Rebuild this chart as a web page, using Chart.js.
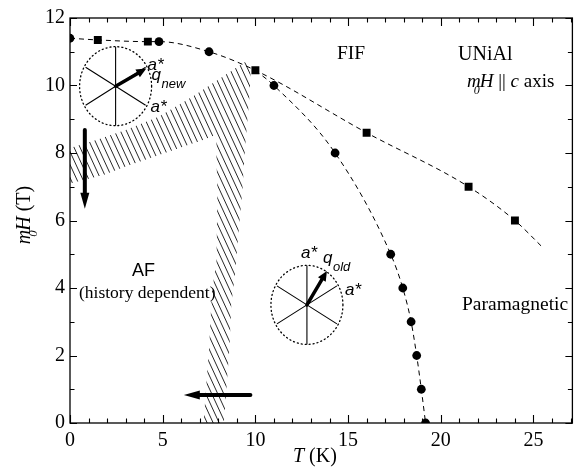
<!DOCTYPE html>
<html><head><meta charset="utf-8">
<script src="https://cdn.jsdelivr.net/npm/chart.js@4.4.1/dist/chart.umd.min.js"></script>
<style>html,body{margin:0;padding:0;background:#fff;}#wrap{width:578px;height:475px;}</style>
</head><body><div id="wrap"><canvas id="c" width="578" height="475"></canvas></div>
<script>
// ---- data ----
const circleT = [0, 4.8, 7.5, 11.0, 14.3, 17.3, 17.95, 18.4, 18.7, 18.95, 19.18];
const circleH = [11.4, 11.3, 11.0, 10.0, 8.0, 5.0, 4.0, 3.0, 2.0, 1.0, 0.0];
const squareT = [1.5, 4.2, 10.0, 16.0, 21.5, 24.0];
const squareH = [11.35, 11.3, 10.45, 8.6, 7.0, 6.0];
const upperLineT = [0, 1.5, 4.2, 4.8, 7.5, 10.0, 16.0, 21.5, 24.0, 25.5];
const upperLineH = [11.4, 11.35, 11.3, 11.3, 11.0, 10.45, 8.6, 7.0, 6.0, 5.2];
const lowerLineT = [10.0, 11.0, 14.3, 17.3, 17.95, 18.4, 18.7, 18.95, 19.18];
const lowerLineH = [10.45, 10.0, 8.0, 5.0, 4.0, 3.0, 2.0, 1.0, 0.0];
const hatchT = [0, 1.5, 3.0, 4.8, 6.6, 8.37, 9.43, 9.75, 9.7, 9.45, 9.3, 9.05, 8.9, 8.7, 8.6, 8.3, 7.2, 7.5, 7.65, 7.9, 7.95, 7.9, 7.9, 7.0, 6.6, 4.8, 3.0, 1.8, 0, 0];
const hatchH = [8.15, 8.4, 8.68, 9.08, 9.67, 10.31, 10.7, 10.55, 9.8, 8.2, 6.9, 5.4, 4.4, 3.5, 2.2, 0, 0, 2.2, 3.85, 4.8, 6.9, 7.8, 8.55, 8.35, 8.28, 7.94, 7.6, 7.35, 7.1, 8.15];
const xTicks = [0, 5, 10, 15, 20, 25];
const yTicks = [0, 2, 4, 6, 8, 10, 12];
// arrows: [T1, H1, T2, H2]
const arrowDown = [0.8, 8.68, 0.8, 6.35];
const arrowLeft = [9.73, 0.83, 6.14, 0.83];
// wave-vector diagrams (centres in T, H)
const diagNew = [2.46, 9.98];
const diagOld = [12.78, 3.5];

const pts = (xs, ys) => xs.map((x, i) => ({x, y: ys[i]}));

function makeHatch() {
  const w = 6, h = 13;
  const c = document.createElement('canvas'); c.width = w; c.height = h;
  const g = c.getContext('2d');
  g.strokeStyle = '#000'; g.lineWidth = 0.85;
  g.beginPath();
  for (const ox of [-w, 0, w]) { g.moveTo(ox, 0); g.lineTo(ox + w, h); }
  g.stroke();
  return g.createPattern(c, 'repeat');
}

const SERIF = "'Liberation Serif', 'Times New Roman', serif";
const SANS = "'Liberation Sans', Arial, sans-serif";

function arrow(ctx, x1, y1, x2, y2, lw, hl, hw) {
  const a = Math.atan2(y2 - y1, x2 - x1);
  const bx = x2 - hl * Math.cos(a), by = y2 - hl * Math.sin(a);
  ctx.save();
  ctx.strokeStyle = '#000'; ctx.fillStyle = '#000';
  ctx.lineWidth = lw; ctx.lineCap = 'round';
  ctx.beginPath(); ctx.moveTo(x1, y1); ctx.lineTo(bx + 2 * Math.cos(a), by + 2 * Math.sin(a)); ctx.stroke();
  ctx.beginPath();
  ctx.moveTo(x2, y2);
  ctx.lineTo(bx + hw * Math.sin(a), by - hw * Math.cos(a));
  ctx.lineTo(bx - hw * Math.sin(a), by + hw * Math.cos(a));
  ctx.closePath(); ctx.fill();
  ctx.restore();
}

function runs(ctx, x, y, list) {
  let cx = x;
  for (const r of list) {
    ctx.font = r.f;
    if (r.noAdv) { ctx.fillText(r.t, cx + (r.dx || 0), y + (r.dy || 0)); continue; }
    cx += (r.dx || 0);
    ctx.fillText(r.t, cx, y + (r.dy || 0));
    cx += ctx.measureText(r.t).width;
  }
  return cx - x;
}

function diagram(ctx, cx, cy, qdx, qdy, labels) {
  ctx.save();
  ctx.strokeStyle = '#000';
  ctx.lineWidth = 1.3; ctx.setLineDash([1, 3]); ctx.lineCap = 'round';
  ctx.beginPath(); ctx.ellipse(cx, cy, 36, 39.5, 0, 0, Math.PI * 2); ctx.stroke();
  ctx.setLineDash([]); ctx.lineWidth = 1.1; ctx.lineCap = 'butt';
  ctx.beginPath();
  ctx.moveTo(cx, cy - 39.5); ctx.lineTo(cx, cy + 39.5);
  ctx.moveTo(cx - 30, cy - 19); ctx.lineTo(cx + 30, cy + 19);
  ctx.moveTo(cx - 30, cy + 19); ctx.lineTo(cx + 30, cy - 19);
  ctx.stroke();
  arrow(ctx, cx, cy, cx + qdx, cy + qdy, 3.5, 10, 4.5);
  ctx.fillStyle = '#000'; ctx.textBaseline = 'alphabetic'; ctx.textAlign = 'left';
  for (const L of labels) {
    ctx.font = L.f; ctx.fillText(L.t, cx + L.x, cy + L.y);
  }
  ctx.restore();
}

const decor = {
  id: 'decor',
  afterDatasetsDraw(chart) {
    const ctx = chart.ctx, a = chart.chartArea;
    const xs = chart.scales.x, ys = chart.scales.y;
    const X = v => xs.getPixelForValue(v), Y = v => ys.getPixelForValue(v);
    ctx.save();
    // frame
    ctx.strokeStyle = '#000'; ctx.lineWidth = 1.3;
    ctx.strokeRect(a.left, a.top, a.right - a.left, a.bottom - a.top);
    // inward ticks
    ctx.lineWidth = 1.1;
    ctx.beginPath();
    for (let t = 0; t <= Math.floor(xs.max); t++) {
      const px = Math.round(X(t)) + 0.5, L = (t % 5 === 0) ? 8 : 4.5;
      ctx.moveTo(px, a.bottom); ctx.lineTo(px, a.bottom - L);
      ctx.moveTo(px, a.top); ctx.lineTo(px, a.top + L);
    }
    for (let h = 0; h <= 12; h++) {
      const py = Math.round(Y(h)) + 0.5, L = (h % 2 === 0) ? 7 : 4.5;
      ctx.moveTo(a.left, py); ctx.lineTo(a.left + L, py);
      ctx.moveTo(a.right, py); ctx.lineTo(a.right - L, py);
    }
    ctx.stroke();
    // clip to chart area for marks
    ctx.save();
    ctx.beginPath(); ctx.rect(a.left, a.top, a.right - a.left, a.bottom - a.top); ctx.clip();
    arrow(ctx, X(arrowDown[0]), Y(arrowDown[1]), X(arrowDown[2]), Y(arrowDown[3]), 4, 16, 4.5);
    arrow(ctx, X(arrowLeft[0]), Y(arrowLeft[1]), X(arrowLeft[2]), Y(arrowLeft[3]), 4, 16, 4.5);
    const fa = 'italic 17px ' + SANS, fs = 'italic 13px ' + SANS;
    diagram(ctx, X(diagNew[0]), Y(diagNew[1]), 30.7, -17.7, [
      {t: 'a*', f: fa, x: 32, y: -16},
      {t: 'q', f: fa, x: 36, y: -6},
      {t: 'new', f: fs, x: 46, y: 2},
      {t: 'a*', f: fa, x: 35, y: 26}
    ]);
    diagram(ctx, X(diagOld[0]), Y(diagOld[1]), 20, -34, [
      {t: 'a*', f: fa, x: -6, y: -47},
      {t: 'q', f: fa, x: 16, y: -42},
      {t: 'old', f: fs, x: 26, y: -34},
      {t: 'a*', f: fa, x: 38, y: -10}
    ]);
    ctx.restore();
    // region labels
    ctx.fillStyle = '#000'; ctx.textAlign = 'left'; ctx.textBaseline = 'alphabetic';
    ctx.font = '19.5px ' + SERIF; ctx.fillText('FIF', 337, 59);
    ctx.font = '20px ' + SERIF; ctx.fillText('UNiAl', 458, 60);
    runs(ctx, 467, 87, [
      {t: 'm', f: 'italic 19px ' + SERIF},
      {t: '0', f: 'italic 12px ' + SERIF, dx: -7, dy: 7, noAdv: true},
      {t: 'H', f: 'italic 19px ' + SERIF, dx: -1},
      {t: ' || ', f: '19px ' + SERIF},
      {t: 'c', f: 'italic 19px ' + SERIF},
      {t: ' axis', f: '19px ' + SERIF}
    ]);
    ctx.font = '19.5px ' + SERIF; ctx.fillText('Paramagnetic', 462, 310);
    ctx.font = '18px ' + SANS; ctx.fillText('AF', 132, 276);
    ctx.font = '17.5px ' + SERIF; ctx.fillText('(history dependent)', 79, 298);
    // x title
    runs(ctx, 293, 462, [
      {t: 'T', f: 'italic 20px ' + SERIF},
      {t: ' (K)', f: '20px ' + SERIF}
    ]);
    // y title
    ctx.save();
    ctx.translate(30, 215); ctx.rotate(-Math.PI / 2);
    ctx.font = 'italic 20px ' + SERIF;
    const wm = ctx.measureText('m').width, wH = ctx.measureText('H').width;
    ctx.font = '20px ' + SERIF;
    const wT = ctx.measureText(' (T)').width;
    const tot = wm + wH - 1 + wT;
    runs(ctx, -tot / 2, 0, [
      {t: 'm', f: 'italic 20px ' + SERIF},
      {t: '0', f: 'italic 13px ' + SERIF, dx: -7, dy: 7, noAdv: true},
      {t: 'H', f: 'italic 20px ' + SERIF, dx: -1},
      {t: ' (T)', f: '20px ' + SERIF}
    ]);
    ctx.restore();
    ctx.restore();
  }
};

new Chart(document.getElementById('c'), {
  type: 'scatter',
  data: {
    datasets: [
      {type: 'scatter', data: pts(circleT, circleH), pointStyle: 'circle', pointRadius: 4.4,
       backgroundColor: '#000', borderColor: '#000', borderWidth: 0, order: 0},
      {type: 'scatter', data: pts(squareT, squareH), pointStyle: 'rect', pointRadius: 5.6,
       backgroundColor: '#000', borderColor: '#000', borderWidth: 0, order: 0},
      {type: 'line', data: pts(upperLineT, upperLineH), borderColor: '#000', borderWidth: 1,
       borderDash: [5, 4], pointRadius: 0, fill: false, cubicInterpolationMode: 'monotone', order: 1},
      {type: 'line', data: pts(lowerLineT, lowerLineH), borderColor: '#000', borderWidth: 1,
       borderDash: [5, 4], pointRadius: 0, fill: false, cubicInterpolationMode: 'monotone', order: 1},
      {type: 'line', data: pts(hatchT, hatchH), borderWidth: 0, borderColor: 'rgba(0,0,0,0)',
       backgroundColor: makeHatch(), fill: 'shape', pointRadius: 0, tension: 0, order: 5}
    ]
  },
  options: {
    responsive: false, animation: false, devicePixelRatio: 1,
    layout: {padding: {top: 18, right: 1, left: 0, bottom: 0}},
    plugins: {legend: {display: false}, tooltip: {enabled: false}},
    scales: {
      x: {
        type: 'linear', min: 0, max: 27.1,
        afterBuildTicks: s => { s.ticks = xTicks.map(v => ({value: v})); },
        afterFit: s => { s.height = 52; },
        grid: {display: false, drawTicks: false},
        border: {display: false},
        ticks: {padding: 6, color: '#000', font: {family: SERIF, size: 20}, maxRotation: 0}
      },
      y: {
        type: 'linear', min: 0, max: 12,
        afterBuildTicks: s => { s.ticks = yTicks.map(v => ({value: v})); },
        afterFit: s => { s.width = 70; },
        grid: {display: false, drawTicks: false},
        border: {display: false},
        ticks: {padding: 5, color: '#000', font: {family: SERIF, size: 20}}
      }
    }
  },
  plugins: [decor]
});
</script>
</body></html>
